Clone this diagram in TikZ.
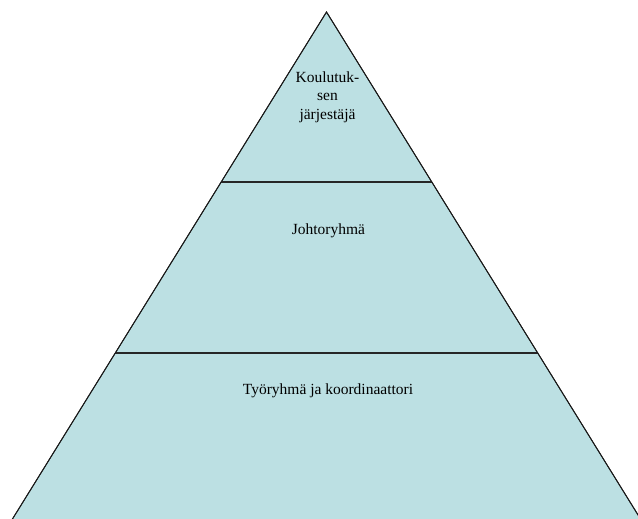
\documentclass[tikz,border=0pt]{standalone}
\usepackage{fontspec}
\setmainfont{Liberation Serif}
\usepackage{xcolor}
\usetikzlibrary{positioning,calc}

\definecolor{tierfill}{RGB}{188,224,227}

\begin{document}
\begin{tikzpicture}[x=1pt, y=-1pt,
  tier/.style={
    align=center,
    font=\fontsize{15.5}{18.6}\selectfont,
    inner sep=0pt
  },
  divider/.style={draw=black!85, line width=1.9pt},
  outline/.style={draw=black!90, line width=0.9pt, fill=tierfill}
]
\useasboundingbox (0,0) rectangle (638,519);
\clip (0,0) rectangle (638,519);

% pyramid corners
\coordinate (apex) at (326.5,12);
\coordinate (bl) at (7.5,527);
\coordinate (br) at (645.5,527);

\path[outline] (apex) -- (br) -- (bl) -- cycle;

% level dividers
\begin{scope}
  \clip (apex) -- (br) -- (bl) -- cycle;
  \draw[divider] (0,182) -- (638,182);
  \draw[divider] (0,353) -- (638,353);
\end{scope}
\path[draw=black!90, line width=0.9pt] (bl) -- (apex) -- (br);

\node[tier] (top) at (327.5,97) {Koulutuk-\\sen\\järjestäjä};
\node[tier] (mid) at (328.5,231) {Johtoryhmä};
\node[tier] (low) at (328,391) {Työryhmä ja koordinaattori};
\end{tikzpicture}
\end{document}
